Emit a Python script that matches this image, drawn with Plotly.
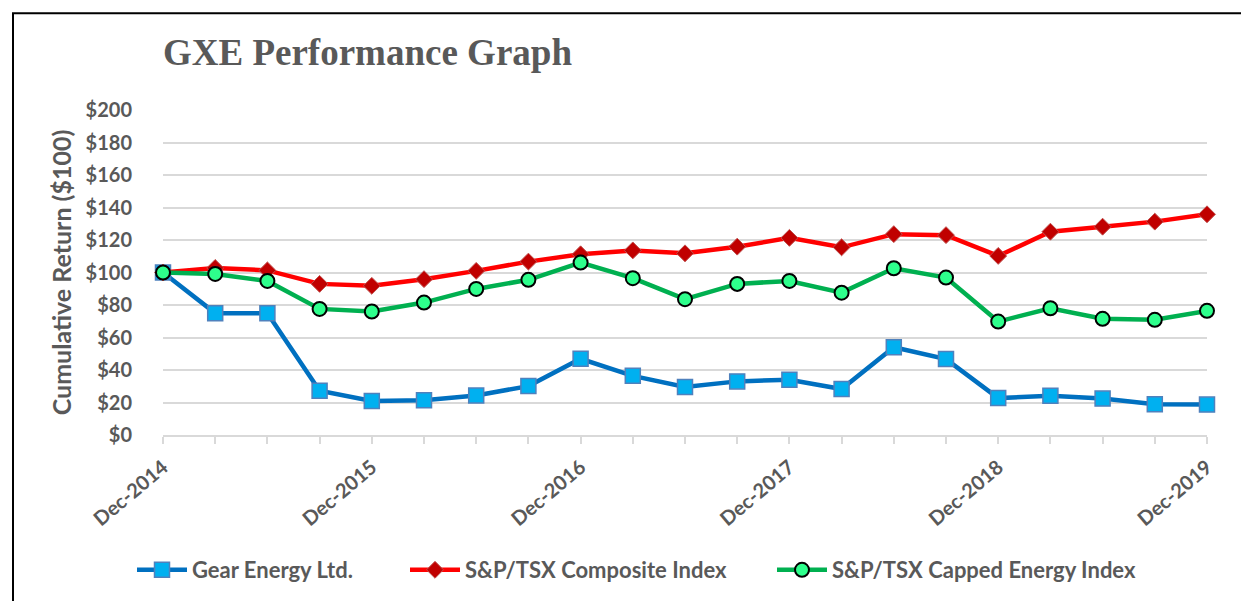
import plotly.graph_objects as go

quarters = ["Dec-2014", "Mar-2015", "Jun-2015", "Sep-2015", "Dec-2015", "Mar-2016", "Jun-2016",
            "Sep-2016", "Dec-2016", "Mar-2017", "Jun-2017", "Sep-2017", "Dec-2017", "Mar-2018",
            "Jun-2018", "Sep-2018", "Dec-2018", "Mar-2019", "Jun-2019", "Sep-2019", "Dec-2019"]
gear = [100, 75, 75, 27.2, 21, 21.4, 24.3, 30.1, 46.9, 36.4, 29.6, 33, 34, 28.3, 54, 46.7, 22.7, 24.2, 22.4, 19, 18.7]
composite = [100, 102.8, 101.3, 93, 91.8, 95.9, 101, 106.7, 111.2, 113.6, 111.8, 115.9, 121.3, 115.5, 123.6, 123, 110.2, 125.1, 128.2, 131.3, 135.8]
energy = [100, 99.1, 94.8, 77.6, 76, 81.5, 89.9, 95.5, 106.1, 96.5, 83.6, 93, 94.8, 87.6, 102.6, 96.9, 69.8, 78, 71.5, 70.9, 76.4]
y_ticks = [0, 20, 40, 60, 80, 100, 120, 140, 160, 180, 200]
tick_text = [q if q.startswith("Dec") else "" for q in quarters]

GRAY = "#595959"
FONT = "Lato"

# page has an 8px body margin; figure is laid out relative to that
W, H = 1241, 593
L, T, PW, PH = 155, 102, 1044, 326

fig = go.Figure()
fig.add_trace(go.Scatter(x=quarters, y=gear, name="Gear Energy Ltd.", mode="lines+markers",
                         line=dict(color="#0070C0", width=4.5),
                         marker=dict(symbol="square", size=15, color="#00B0F0",
                                     line=dict(color="#4F81BD", width=1.5)),
                         cliponaxis=False, legend="legend"))
fig.add_trace(go.Scatter(x=quarters, y=composite, name="S&P/TSX Composite Index", mode="lines+markers",
                         line=dict(color="#FF0000", width=4.5),
                         marker=dict(symbol="diamond", size=13, color="#C00000",
                                     line=dict(color="#C0504D", width=1)),
                         cliponaxis=False, legend="legend2"))
fig.add_trace(go.Scatter(x=quarters, y=energy, name="S&P/TSX Capped Energy Index", mode="lines+markers",
                         line=dict(color="#00B050", width=4.5),
                         marker=dict(symbol="circle", size=14, color="#2EFF8C",
                                     line=dict(color="#000000", width=2)),
                         cliponaxis=False, legend="legend3"))


def leg(px):
    return dict(orientation="h", x=(px - L) / PW, xanchor="left",
                y=-(562 - (T + PH)) / PH, yanchor="middle",
                font=dict(family=FONT, size=22, color=GRAY, weight="bold"),
                itemwidth=50, bgcolor="rgba(0,0,0,0)")


fig.update_layout(
    width=W, height=H,
    margin=dict(l=L, r=W - L - PW, t=T, b=H - T - PH, pad=0),
    plot_bgcolor="white", paper_bgcolor="white",
    font=dict(family=FONT, color=GRAY),
    title=dict(text="<b>GXE Performance Graph</b>", x=L / W, xanchor="left",
               y=1 - 44 / H, yanchor="middle",
               font=dict(family="Liberation Serif", size=37, color=GRAY)),
    showlegend=True,
    legend=leg(124), legend2=leg(397), legend3=leg(764),
    xaxis=dict(type="category", range=[0, len(quarters) - 1], tickvals=quarters, ticktext=tick_text,
               tickangle=-40, ticks="outside", ticklen=7, tickcolor="#D9D9D9", tickwidth=1.5,
               showline=True, linecolor="#D9D9D9", linewidth=2, showgrid=False, ticklabelstandoff=4,
               tickfont=dict(family=FONT, size=20, color=GRAY, weight="bold"), zeroline=False),
    yaxis=dict(range=[0, 200], tickvals=y_ticks, ticktext=[f"${v}" for v in y_ticks],
               showgrid=True, gridcolor="#D9D9D9", gridwidth=1.5, zeroline=False,
               tickfont=dict(family=FONT, size=20, color=GRAY, weight="bold"), ticks="",
               ticklabelstandoff=30,
               title=dict(text="<b>Cumulative Return ($100)</b>", standoff=6,
                          font=dict(family=FONT, size=25, color=GRAY))),
    shapes=[dict(type="rect", xref="paper", yref="paper",
                 x0=(5 - L) / PW, x1=(W + 20 - L) / PW,
                 y0=-(H + 20 - T - PH) / PH, y1=(T + PH - 5) / PH,
                 line=dict(color="black", width=2), fillcolor="rgba(0,0,0,0)", layer="below")],
)

fig.write_html("out.html")
